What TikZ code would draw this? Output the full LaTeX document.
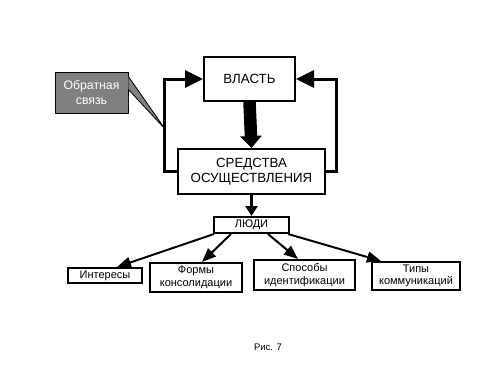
\documentclass[tikz,border=0pt]{standalone}
\usepackage{fontspec}
\setmainfont{Liberation Sans}
\usetikzlibrary{arrows.meta}
\definecolor{figline}{RGB}{0,0,0}
\definecolor{figcall}{RGB}{128,128,128}
\tikzset{
  box/.style  ={draw=figline, line width=2pt, fill=white, align=center, inner sep=1pt},
  bigf/.style ={font=\fontsize{13.3}{15}\selectfont},
  smf/.style  ={font=\fontsize{11}{12.5}\selectfont},
  loopl/.style={draw=figline, line width=3pt, -{Triangle[length=18pt,width=17pt]}},
  ptr/.style  ={draw=figline, line width=2pt, -{Triangle[length=14pt,width=11pt]}},
}

\begin{document}
\begin{tikzpicture}[x=1pt,y=-1pt]
  \useasboundingbox (0,0) rectangle (500,375);
  % upper part
  \node[box,bigf,minimum width=91pt,minimum height=44pt] (vlast) at (249.5,79) {ВЛАСТЬ};
  \node[box,bigf,minimum width=147pt,minimum height=45pt] (sredst) at (251.5,171.5) {СРЕДСТВА\\ОСУЩЕСТВЛЕНИЯ};
  \draw[draw=figline,line width=12.5pt,-{Triangle[length=12pt,width=21pt]}] (vlast.south) -- (sredst.north);
  \draw[loopl] (sredst.west) -- ++(-13,0) |- (vlast.west);
  \draw[loopl] (sredst.east) -- ++(10,0) |- (vlast.east);
  % callout
  \coordinate (fbtip) at (165,129);
  \node[draw=figline,line width=0.8pt,fill=figcall,text=white,align=center,inner sep=1pt,
        font=\fontsize{12.3}{15}\selectfont,minimum width=73pt,minimum height=41pt] (fb) at (91.5,92.5) {Обратная\\связь};
  \draw[draw=figline,line width=0.8pt,fill=figcall] ([yshift=3pt]fb.east) -- (fbtip) -- ([yshift=16pt]fb.east);
  \fill[figcall] ([shift={(-0.4,3.4)}]fb.east) rectangle ([shift={(-0.4,15.6)}]fb.east);
  % lower part
  \node[box,smf,minimum width=75pt,minimum height=16pt] (ludi) at (251.5,225) {ЛЮДИ};
  \draw[draw=figline,line width=2.5pt,-{Triangle[length=10pt,width=12pt]}] (sredst.south) -- (ludi.north);
  \node[box,smf,minimum width=74pt,minimum height=15pt] (inter) at (105,275.5) {Интересы};
  \node[box,smf,minimum width=92pt,minimum height=29pt] (formy) at (196,277.5) {Формы\\консолидации};
  \node[box,smf,minimum width=101pt,minimum height=30pt] (sposob) at (304.5,275) {Способы\\идентификации};
  \node[box,smf,minimum width=88pt,minimum height=28pt] (tipy) at (416,276) {Типы\\коммуникаций};
  \draw[ptr] ([xshift=1pt]ludi.south west) -- ([xshift=12pt]inter.north);
  \draw[ptr] ([xshift=18pt]ludi.south west) -- ([xshift=6pt]formy.north);
  \draw[ptr] ([xshift=16.5pt]ludi.south) -- ([xshift=-6.5pt]sposob.north);
  \draw[ptr] ([xshift=-2pt]ludi.south east) -- ([xshift=10pt]tipy.north west);
  \node[font=\fontsize{9.5}{11}\selectfont] (cap) at (268,347) {Рис. 7};
\end{tikzpicture}
\end{document}
